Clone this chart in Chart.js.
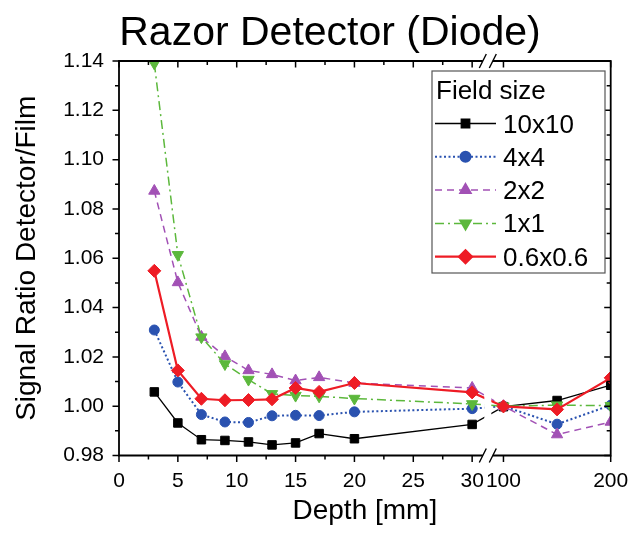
<!DOCTYPE html>
<html>
<head>
<meta charset="utf-8">
<script src="https://cdn.jsdelivr.net/npm/chart.js"></script>
<style>
  html, body { margin: 0; padding: 0; background: #fff; }
</style>
</head>
<body>
<canvas id="chart" width="634" height="533"></canvas>
<script>
// depths in mm, x axis is broken between 30 and 100
const depths = [3, 5, 7, 9, 11, 13, 15, 17, 20, 30, 100, 150, 200];

const ratio10x10 = [1.0058, 0.9932, 0.9864, 0.9861, 0.9855, 0.9843, 0.9851, 0.9889, 0.9868, 0.9926, 0.9998, 1.0023, 1.0085];
const ratio4x4   = [1.0309, 1.0098, 0.9966, 0.9936, 0.9934, 0.9961, 0.9963, 0.9962, 0.9977, 0.9990, 1.0000, 0.9927, 1.0004];
const ratio2x2   = [1.0873, 1.0502, 1.0281, 1.0202, 1.0145, 1.0129, 1.0104, 1.0117, 1.0094, 1.0074, 1.0000, 0.9885, 0.9936];
const ratio1x1   = [1.1390, 1.0614, 1.0280, 1.0171, 1.0108, 1.0050, 1.0043, 1.0040, 1.0031, 1.0009, 1.0000, 1.0004, 1.0002];
const ratio06    = [1.0549, 1.0145, 1.0030, 1.0024, 1.0025, 1.0028, 1.0074, 1.0058, 1.0094, 1.0056, 0.9999, 0.9987, 1.0115];

const fieldSizes = ["10x10", "4x4", "2x2", "1x1", "0.6x0.6"];

const xLabelDepths = [0, 5, 10, 15, 20, 25, 30, 100, 200];
const xMinorDepths = [2.5, 7.5, 12.5, 17.5, 22.5, 27.5];
const yMajorTicks = [0.98, 1.00, 1.02, 1.04, 1.06, 1.08, 1.10, 1.12, 1.14];
const yMinorTicks = [0.99, 1.01, 1.03, 1.05, 1.07, 1.09, 1.11, 1.13];

const FONT = "'Liberation Sans', Arial, sans-serif";

// axis break: 0..30 linear, then 100..200 squeezed in after a small gap
const BREAK_GAP = 2.66;
const RIGHT_SCALE = 0.0911;
function toAxis(d) {
  return d <= 30 ? d : 30 + BREAK_GAP + (d - 100) * RIGHT_SCALE;
}
function fromAxis(u) {
  return u <= 30.001 ? u : 100 + (u - 30 - BREAK_GAP) / RIGHT_SCALE;
}

const styles = [
  { color: "#000000", width: 1.3, dash: [], point: "rect", radius: 6, rotation: 0, order: 5 },
  { color: "#2a52b0", width: 2, dash: [2, 2.5], point: "circle", radius: 5, rotation: 0, order: 4 },
  { color: "#a251b5", width: 1.5, dash: [7, 5], point: "triangle", radius: 6.5, rotation: 0, order: 3 },
  { color: "#5cb83c", width: 1.5, dash: [9, 4, 2, 4], point: "triangle", radius: 6.5, rotation: 180, order: 2 },
  { color: "#ee1c25", width: 2.2, dash: [], point: "rectRot", radius: 6.5, rotation: 0, order: 1 }
];
const seriesValues = [ratio10x10, ratio4x4, ratio2x2, ratio1x1, ratio06];

const datasets = seriesValues.map((vals, i) => ({
  label: fieldSizes[i],
  data: vals.map((v, j) => ({ x: toAxis(depths[j]), y: v })),
  borderColor: styles[i].color,
  backgroundColor: styles[i].color,
  borderWidth: styles[i].width,
  borderDash: styles[i].dash,
  pointStyle: styles[i].point,
  pointRadius: styles[i].radius,
  pointRotation: styles[i].rotation,
  pointBorderWidth: 1,
  pointBackgroundColor: styles[i].color,
  pointBorderColor: styles[i].color,
  tension: 0,
  order: styles[i].order
}));

function marker(ctx, st, x, y) {
  ctx.fillStyle = st.color;
  ctx.strokeStyle = st.color;
  ctx.setLineDash([]);
  if (Chart.helpers && Chart.helpers.drawPoint) {
    Chart.helpers.drawPoint(ctx, { pointStyle: st.point, radius: st.radius, rotation: st.rotation, borderWidth: 1 }, x, y);
  } else {
    ctx.beginPath();
    ctx.arc(x, y, st.radius, 0, Math.PI * 2);
    ctx.fill();
  }
}

const framePlugin = {
  id: "frame",
  afterDatasetsDraw(chart) {
    const { ctx, chartArea: a, scales: { x, y } } = chart;
    const bc = (x.getPixelForValue(toAxis(30)) + x.getPixelForValue(toAxis(100))) / 2;
    ctx.save();
    // cut the data lines at the break
    ctx.fillStyle = "#fff";
    ctx.fillRect(bc - 3.5, a.top + 2, 7, a.bottom - a.top - 4);

    ctx.strokeStyle = "#000";
    ctx.lineWidth = 1.8;
    ctx.setLineDash([]);
    ctx.beginPath();
    ctx.moveTo(a.left, a.top); ctx.lineTo(a.left, a.bottom);
    ctx.moveTo(a.right, a.top); ctx.lineTo(a.right, a.bottom);
    [a.top, a.bottom].forEach(yy => {
      ctx.moveTo(a.left - 0.9, yy); ctx.lineTo(bc - 5, yy);
      ctx.moveTo(bc + 5, yy); ctx.lineTo(a.right + 0.9, yy);
    });
    ctx.stroke();

    // break slashes
    ctx.lineWidth = 1.4;
    ctx.beginPath();
    [a.top, a.bottom].forEach(yy => {
      [-5, 5].forEach(off => {
        ctx.moveTo(bc + off - 3.5, yy + 7);
        ctx.lineTo(bc + off + 3.5, yy - 7);
      });
    });
    ctx.stroke();

    // tick marks: outward on left/bottom, inward on top/right
    ctx.lineWidth = 1.5;
    ctx.beginPath();
    const xt = (d, len) => {
      const px = x.getPixelForValue(toAxis(d));
      ctx.moveTo(px, a.bottom); ctx.lineTo(px, a.bottom + len);
      ctx.moveTo(px, a.top); ctx.lineTo(px, a.top + len);
    };
    xLabelDepths.forEach(d => xt(d, 6.5));
    xMinorDepths.forEach(d => xt(d, 4));
    const yt = (v, len) => {
      const py = y.getPixelForValue(v);
      ctx.moveTo(a.left, py); ctx.lineTo(a.left - len, py);
      ctx.moveTo(a.right, py); ctx.lineTo(a.right - len, py);
    };
    yMajorTicks.forEach(v => yt(v, 6.5));
    yMinorTicks.forEach(v => yt(v, 4));
    ctx.stroke();
    ctx.restore();
  },
  afterDraw(chart) {
    const ctx = chart.ctx;
    ctx.save();
    // title
    ctx.fillStyle = "#000";
    ctx.font = "41px " + FONT;
    ctx.textAlign = "center";
    ctx.textBaseline = "alphabetic";
    ctx.fillText("Razor Detector (Diode)", 330, 45);

    // legend box
    ctx.strokeStyle = "#555";
    ctx.lineWidth = 1.2;
    ctx.fillStyle = "#fff";
    ctx.fillRect(432, 71, 173, 202);
    ctx.strokeRect(432, 71, 173, 202);

    ctx.fillStyle = "#000";
    ctx.font = "26px " + FONT;
    ctx.textAlign = "left";
    ctx.fillText("Field size", 436, 99);

    fieldSizes.forEach((name, i) => {
      const st = styles[i];
      const cy = 123.5 + i * 33.3;
      ctx.strokeStyle = st.color;
      ctx.lineWidth = st.width;
      ctx.setLineDash(st.dash);
      ctx.beginPath();
      ctx.moveTo(435, cy); ctx.lineTo(496, cy);
      ctx.stroke();
      marker(ctx, st, 465.5, cy);
      ctx.fillStyle = "#000";
      ctx.font = "26px " + FONT;
      ctx.fillText(name, 503, cy + 9);
    });
    ctx.restore();
  }
};

new Chart(document.getElementById("chart"), {
  type: "line",
  data: { datasets: datasets },
  options: {
    responsive: false,
    devicePixelRatio: 1,
    animation: false,
    layout: { padding: { top: 61, right: 23.3, left: 0, bottom: 0 } },
    plugins: {
      legend: { display: false },
      title: { display: false },
      tooltip: { enabled: false }
    },
    scales: {
      x: {
        type: "linear",
        min: 0,
        max: toAxis(200),
        grid: { display: false, drawTicks: false },
        border: { display: false },
        afterFit(s) {
          s.height = 77.5;
          s.paddingLeft = 0;
          s.paddingRight = 0;
        },
        afterBuildTicks(s) { s.ticks = xLabelDepths.map(d => ({ value: toAxis(d) })); },
        ticks: {
          autoSkip: false,
          maxRotation: 0,
          padding: 13,
          color: "#000",
          font: { family: FONT, size: 21 },
          callback: (v) => String(Math.round(fromAxis(v)))
        },
        title: {
          display: true,
          text: "Depth [mm]",
          color: "#000",
          font: { family: FONT, size: 28 },
          padding: { top: 0, bottom: 5 }
        }
      },
      y: {
        min: 0.98,
        max: 1.14,
        grid: { display: false, drawTicks: false },
        border: { display: false },
        afterFit(s) {
          s.width = 119;
          s.paddingTop = 0;
          s.paddingBottom = 0;
        },
        afterBuildTicks(s) { s.ticks = yMajorTicks.map(v => ({ value: v })); },
        ticks: {
          padding: 15,
          color: "#000",
          font: { family: FONT, size: 21 },
          callback: (v) => v.toFixed(2)
        },
        title: {
          display: true,
          text: "Signal Ratio Detector/Film",
          color: "#000",
          font: { family: FONT, size: 28 },
          padding: { top: 10, bottom: 0 }
        }
      }
    }
  },
  plugins: [framePlugin]
});
</script>
</body>
</html>
